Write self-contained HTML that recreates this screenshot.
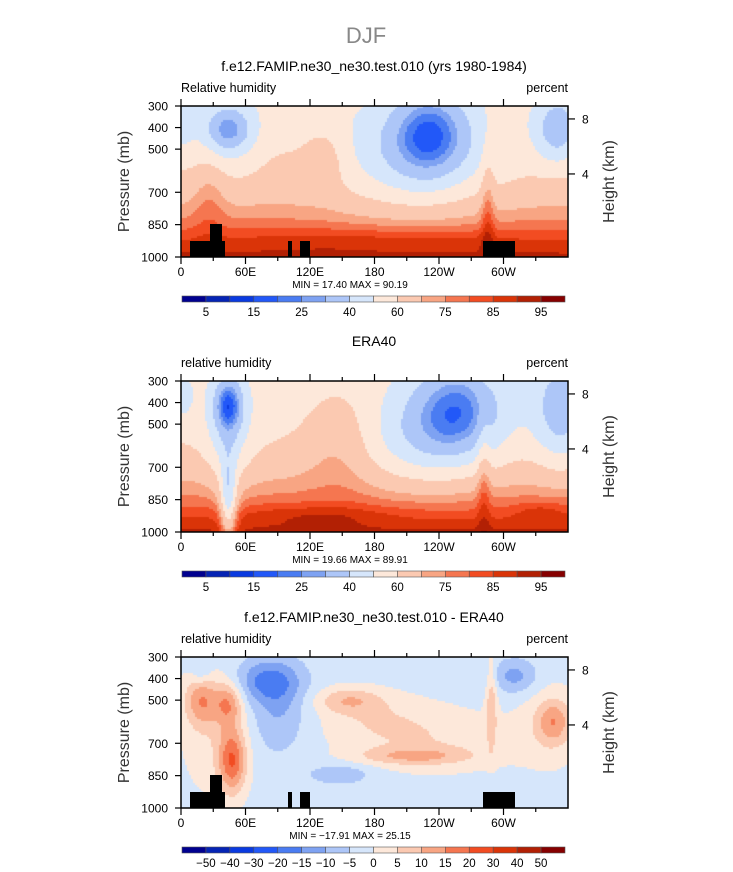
<!DOCTYPE html>
<html><head><meta charset="utf-8"><style>
body{margin:0;background:#fff;width:733px;height:872px;overflow:hidden;position:relative;font-family:"Liberation Sans",sans-serif}
canvas{position:absolute}
svg{position:absolute;left:0;top:0}
</style></head><body>
<canvas id="c1"></canvas>
<canvas id="c2"></canvas>
<canvas id="c3"></canvas>
<svg id="s" width="733" height="872"></svg>
<script>
// data
const absLevels=[5,10,15,20,25,30,40,50,60,70,75,80,85,90,95];
const absLabels=["5","15","25","40","60","75","85","95"];
const diffLevels=[-50,-40,-30,-20,-15,-10,-5,0,5,10,15,20,30,40,50];
const diffLabels=["−50","−40","−30","−20","−15","−10","−5","0","5","10","15","20","30","40","50"];
const colors=["#00008f","#0524b4","#0a3ae0","#2258f8","#4a7cf2","#7ea2f2","#adc6f8","#d6e6fb","#fde8da","#fbc9b1","#f8a583","#f57650","#f24c22","#da3408","#b22004","#860000"];
const lonTicks=["0","60E","120E","180","120W","60W"];
const presTicks=[300,400,500,700,850,1000];
const heightTicks=[8,4];
const heightPressure=[360,615];
// blobs: [xfrac, yfrac, sx, sy, amplitude]
const blobs1=[[0.64,0.17,0.07,0.2,-28],[0.6,0.38,0.14,0.25,-16],[0.12,0.15,0.04,0.1,-22],[0.12,0.2,0.07,0.2,-8],[0.97,0.15,0.04,0.15,-22],[0.37,0.33,0.04,0.15,10],[0.79,0.65,0.012,0.3,11],[0.07,0.55,0.03,0.2,8],[0,0.1,0.02,0.1,-12],[0.5,0.88,0.3,0.06,5],[0.25,0.3,0.06,0.2,4]];
const blobs2=[[0.71,0.18,0.08,0.22,-28],[0.62,0.4,0.13,0.22,-16],[0.12,0.15,0.025,0.12,-28],[0.12,0.35,0.04,0.25,-16],[0.12,0.8,0.015,0.2,-30],[0.41,0.35,0.07,0.25,12],[0.98,0.2,0.05,0.25,-22],[0.78,0.6,0.012,0.3,10],[0,0.1,0.02,0.1,-10],[0.35,0.88,0.15,0.05,6],[0.93,0.86,0.05,0.05,6]];
const blobs3=[[0.05,0.28,0.03,0.12,14],[0.12,0.3,0.025,0.1,14],[0.13,0.68,0.025,0.15,20],[0.08,0.5,0.06,0.3,5],[0.22,0.15,0.06,0.1,-13],[0.25,0.35,0.05,0.2,-8],[0.43,0.28,0.06,0.06,10],[0.5,0.4,0.1,0.12,5],[0.6,0.65,0.1,0.04,10],[0.65,0.55,0.15,0.15,6],[0.41,0.77,0.06,0.05,-7],[0.8,0.3,0.01,0.2,10],[0.86,0.12,0.04,0.08,-10],[0.96,0.42,0.03,0.1,12],[0.95,0.45,0.06,0.2,5],[0.05,0.1,0.02,0.06,-6]];
const panels=[
 {id:"c1",top:106,blobs:blobs1,levels:absLevels,labels:absLabels,base:y=>54+38*y*y,title:"f.e12.FAMIP.ne30_ne30.test.010 (yrs 1980-1984)",left:"Relative  humidity",min:"17.40",max:"90.19",topo:true},
 {id:"c2",top:381,blobs:blobs2,levels:absLevels,labels:absLabels,base:y=>54+38*y*y,title:"ERA40",left:"relative  humidity",min:"19.66",max:"89.91",topo:false},
 {id:"c3",top:657,blobs:blobs3,levels:diffLevels,labels:diffLabels,base:y=>-2,title:"f.e12.FAMIP.ne30_ne30.test.010 - ERA40",left:"relative  humidity",min:"−17.91",max:"25.15",topo:true}];
const X0=181,X1=568,H=151;
function xs(f){return X0+f*(X1-X0);}
function yp(p,top){return top+(p-300)/700*H;}
const S=document.getElementById('s');const NS="http://www.w3.org/2000/svg";
function add(tag,at,txt){const e=document.createElementNS(NS,tag);for(const k in at)e.setAttribute(k,at[k]);if(txt!=null)e.textContent=txt;S.appendChild(e);return e;}
let t=add('text',{x:366,y:43,'text-anchor':'middle','font-size':22,fill:'#888'},"DJF");


panels.forEach((P,pi)=>{
 const c=document.getElementById(P.id);const W=X1-X0;
 c.width=W;c.height=H;c.style.left=X0+'px';c.style.top=P.top+'px';
 const ctx=c.getContext('2d');
 for(let j=0;j<H;j+=2)for(let i=0;i<W;i+=2){
  const x=i/W,y=j/H;let v=P.base(y);
  P.blobs.forEach(b=>{const dx=(x-b[0])/b[2],dy=(y-b[1])/b[3];v+=b[4]*Math.exp(-0.5*(dx*dx+dy*dy));});
  let k=0;while(k<P.levels.length&&v>=P.levels[k])k++;
  ctx.fillStyle=colors[k];ctx.fillRect(i,j,2,2);}
 const T=P.top,B=T+H;
 t=add('text',{x:374,y:T-35,'text-anchor':'middle','font-size':14},P.title);
 
 
 t=add('text',{x:X0,y:T-14,'font-size':12.5},P.left);
 
 
 t=add('text',{x:X1,y:T-14,'font-size':12.5,'text-anchor':'end'},"percent");
 
 
 if(P.topo){[[190,241,225,257],[210,224,222,257],[288,241,292,257],[300,241,310,257],[483,241,515,257]].forEach(r=>{
   const e=add('rect',{x:r[0],y:r[1]-106+T,width:r[2]-r[0],height:r[3]-r[1],fill:'#000'});
   
   });}
 t=add('rect',{x:X0,y:T,width:X1-X0,height:H,fill:'none',stroke:'#000','stroke-width':1.5});
 
 
 for(let d=0;d<=330;d+=30){const x=xs(d/360),mj=d%60==0;
  add('line',{x1:x,x2:x,y1:B,y2:B+(mj?7:4),stroke:'#000','stroke-width':1.2});
  add('line',{x1:x,x2:x,y1:T,y2:T-(mj?7:4),stroke:'#000','stroke-width':1.2});}
 lonTicks.forEach((l,i)=>{t=add('text',{x:xs(i/6),y:B+19,'text-anchor':'middle','font-size':12},l);
  
  });
 presTicks.forEach(p=>{const y=yp(p,T);add('line',{x1:X0,x2:X0-6,y1:y,y2:y,stroke:'#000','stroke-width':1.2});
  t=add('text',{x:X0-13,y:y+4.5,'text-anchor':'end','font-size':12},p);
  
  });
 heightTicks.forEach((h,i)=>{const y=yp(heightPressure[i],T);
  add('line',{x1:X1,x2:X1+7,y1:y,y2:y,stroke:'#000','stroke-width':1.2});
  t=add('text',{x:X1+14,y:y+4.5,'font-size':12},h);
  
  });
 t=add('text',{transform:`translate(129,${T+H/2}) rotate(-90)`,'text-anchor':'middle','font-size':16,fill:'#333'},"Pressure  (mb)");
 
 
 t=add('text',{transform:`translate(614,${T+H/2}) rotate(-90)`,'text-anchor':'middle','font-size':16,fill:'#333'},"Height  (km)");
 
 
 t=add('text',{x:350,y:B+31,'text-anchor':'middle','font-size':10},`MIN = ${P.min}   MAX = ${P.max}`);
 
 
 const cy=B+39,cw=(565-182)/16;
 colors.forEach((col,i)=>{const e=add('rect',{x:182+i*cw,y:cy,width:cw,height:6,fill:col,stroke:'#555','stroke-width':0.6});
  
  });
 const step=P.labels.length==8?2:1;
 P.labels.forEach((l,i)=>{const k=i*step+1;
  t=add('text',{x:182+k*cw,y:cy+20,'text-anchor':'middle','font-size':11.5},l);
  
  });
});
</script>
</body></html>
